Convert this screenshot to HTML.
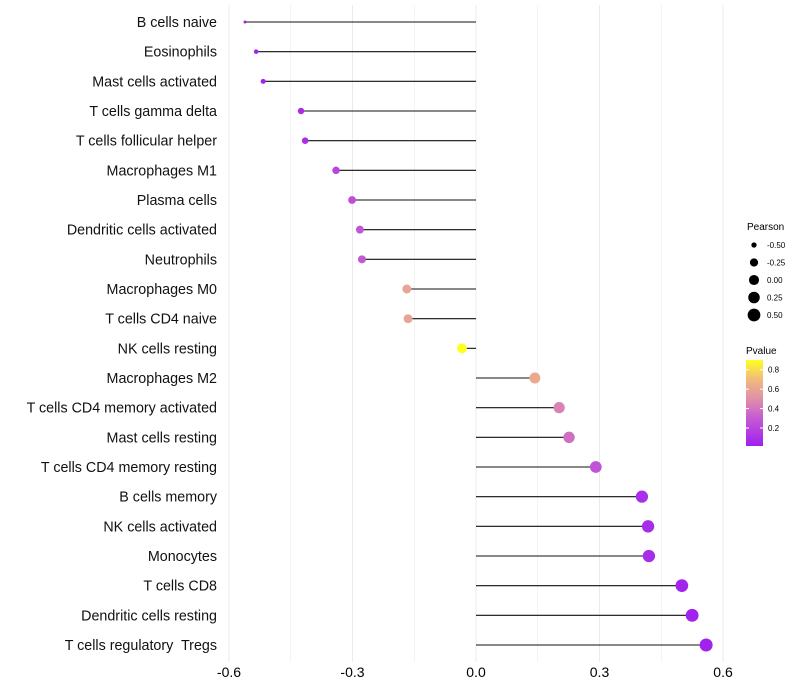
<!DOCTYPE html>
<html><head><meta charset="utf-8"><style>
body{margin:0;background:#fff;}
svg{display:block;font-family:"Liberation Sans",sans-serif;}
text{white-space:pre;}
</style></head><body>
<svg id="chart" width="800" height="700">
<defs><linearGradient id="pg" x1="0" y1="1" x2="0" y2="0">
<stop offset="0" stop-color="#a020f0"/><stop offset="0.35" stop-color="#c860d0"/><stop offset="0.55" stop-color="#e090a8"/><stop offset="0.78" stop-color="#f2bb7c"/><stop offset="1" stop-color="#ffff20"/>
</linearGradient></defs>
<g id="grid"></g><g id="marks"></g><g id="labels"></g>
<g id="legend"></g>
</svg>
<script>
const categories=["B cells naive","Eosinophils","Mast cells activated","T cells gamma delta","T cells follicular helper","Macrophages M1","Plasma cells","Dendritic cells activated","Neutrophils","Macrophages M0","T cells CD4 naive","NK cells resting","Macrophages M2","T cells CD4 memory activated","Mast cells resting","T cells CD4 memory resting","B cells memory","NK cells activated","Monocytes","T cells CD8","Dendritic cells resting","T cells regulatory  Tregs"];
const pearson=[-0.561,-0.534,-0.517,-0.425,-0.415,-0.340,-0.301,-0.282,-0.277,-0.168,-0.165,-0.034,0.143,0.202,0.226,0.291,0.403,0.418,0.420,0.500,0.525,0.559];
const pvalue=[0.02,0.03,0.04,0.08,0.09,0.2,0.24,0.28,0.29,0.6,0.6,0.9,0.62,0.45,0.38,0.26,0.09,0.08,0.08,0.04,0.03,0.02];
const xTicks=[-0.6,-0.3,0.0,0.3,0.6];
const sizeLegend=[-0.5,-0.25,0,0.25,0.5];
const colorTicks=[0.8,0.6,0.4,0.2];
const NS="http://www.w3.org/2000/svg";
const X=v=>476+v*411.7;
const Y=i=>22+i*29.667;
const R=v=>1.5+5*Math.sqrt(Math.max(0,(v+0.561)/1.12));
const stops=[[0,[160,32,240]],[0.35,[200,96,208]],[0.55,[224,144,168]],[0.78,[242,187,124]],[1,[255,255,32]]];
function col(p){const t=Math.min(1,Math.max(0,(p-0.015)/(0.9-0.015)));for(let k=1;k<stops.length;k++){if(t<=stops[k][0]){const a=stops[k-1],b=stops[k],f=(t-a[0])/(b[0]-a[0]);return "rgb("+a[1].map((c,j)=>Math.round(c+(b[1][j]-c)*f)).join(",")+")";}}return "rgb(255,255,32)";}
function mk(tag,attrs,parent,txt){const e=document.createElementNS(NS,tag);for(const k in attrs)e.setAttribute(k,attrs[k]);if(txt!==undefined)e.textContent=txt;parent.appendChild(e);return e;}
const grid=document.getElementById('grid'),marks=document.getElementById('marks'),labels=document.getElementById('labels'),leg=document.getElementById('legend');
for(let v=-0.6;v<=0.61;v+=0.15){const g=mk('line',{x1:X(v),x2:X(v),y1:5,y2:662,stroke:'#ebebeb','stroke-width':Math.abs(Math.round(v/0.3)*0.3-v)<1e-6?1:0.6},grid);

}
xTicks.forEach(v=>{const t=mk('text',{x:X(v),y:677,'text-anchor':'middle','font-size':14,fill:'#000'},labels,v.toFixed(1));

});
categories.forEach((c,i)=>{
const t=mk('text',{x:217,y:Y(i)+5,'text-anchor':'end','font-size':14.3,fill:'#111'},labels,c);


const s=mk('line',{x1:X(0),x2:X(pearson[i]),y1:Y(i),y2:Y(i),stroke:'#111','stroke-width':1.1},marks);


const d=mk('circle',{cx:X(pearson[i]),cy:Y(i),r:R(pearson[i]),fill:col(pvalue[i])},marks);


});
let e=mk('text',{x:747,y:230,'font-size':10},leg,'Pearson');


sizeLegend.forEach((v,i)=>{const y=245+i*17.5;
const c=mk('circle',{cx:754,cy:y,r:R(v),fill:'#000'},leg);


const t=mk('text',{x:767,y:y+3,'font-size':8},leg,v.toFixed(2));

});
e=mk('text',{x:746,y:354,'font-size':10},leg,'Pvalue');


e=mk('rect',{x:746,y:360,width:17,height:86,fill:'url(#pg)'},leg);


colorTicks.forEach(p=>{const y=446-(p-0.015)/(0.9-0.015)*86;
mk('line',{x1:746,x2:749,y1:y,y2:y,stroke:'#fff'},leg);mk('line',{x1:760,x2:763,y1:y,y2:y,stroke:'#fff'},leg);
const t=mk('text',{x:768,y:y+3,'font-size':8},leg,p.toFixed(1));

});
</script>
</body></html>
